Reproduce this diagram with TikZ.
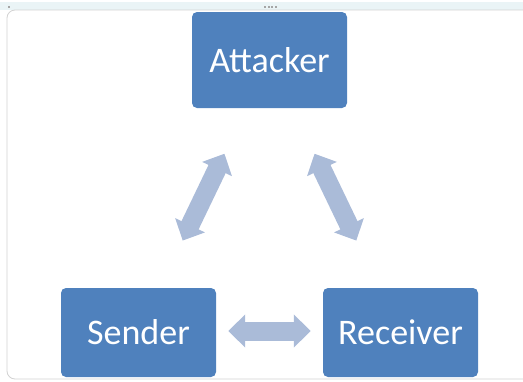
\documentclass[tikz,border=0pt]{standalone}
\usepackage{fontspec}
\setmainfont{Carlito}
\usetikzlibrary{arrows.meta}
\definecolor{boxblue}{HTML}{4F81BD}
\definecolor{linkblue}{RGB}{170,187,216}
\definecolor{stripcyan}{RGB}{234,244,246}
\begin{document}
\begin{tikzpicture}[x=1pt, y=-1pt,
    box/.style={fill=boxblue, rounded corners=5pt, text=white, font=\fontsize{36}{38}\selectfont,
                minimum width=155pt, inner sep=0pt},
    link/.style={draw=linkblue, line width=19pt,
                 {Triangle[width=32pt,length=17pt]}-{Triangle[width=32pt,length=17pt]}}]
        \useasboundingbox (0,0) rectangle (523,381);
        
        % Window frame
        \fill[stripcyan] (0,2) rectangle (523,10);
        \draw[gray!35, line width=0.8pt, rounded corners=8pt] (523,10) -- (7,10) -- (7,379) -- (523,379);
        \foreach \x in {264,267.5,271,274.5}
            \fill[gray!70] (\x,5.5) rectangle ++(2,2);
        \fill[gray!70] (8,6) rectangle ++(2,2);
        
        % Parties
        \node[box, minimum height=96pt] (att) at (269.5,60) {Attacker};
        \node[box, minimum height=89pt] (snd) at (138.5,332.5) {Sender};
        \node[box, minimum height=89pt] (rcv) at (400.5,332.5) {Receiver};
        
        % Links
        \draw[link, shorten <=104pt, shorten >=102pt] (att.center) -- (snd.center);
        \draw[link, shorten <=104pt, shorten >=102pt] (att.center) -- (rcv.center);
        \draw[link, shorten <=12pt, shorten >=12pt] ([yshift=1.5pt]snd.east) -- ([yshift=1.5pt]rcv.west);
        
    \end{tikzpicture}
\end{document}
